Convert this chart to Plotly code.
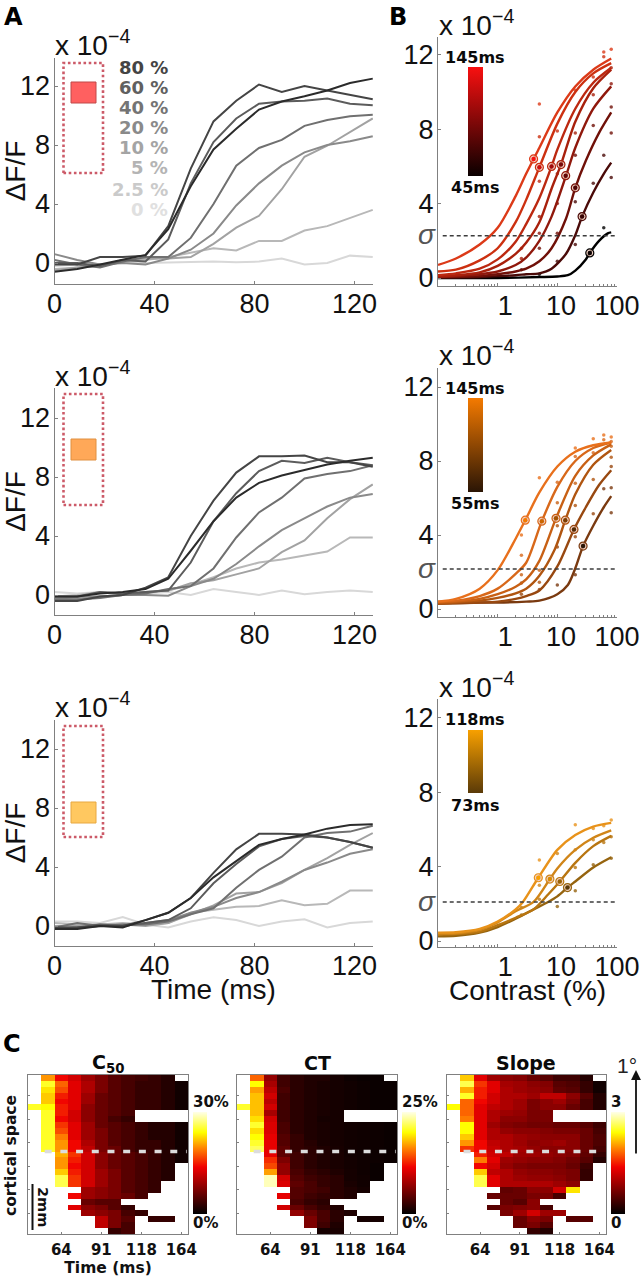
import plotly.graph_objects as go

W, H = 643, 1280
_ = None
HV = "Liberation Sans"
DV = "DejaVu Sans"

# ---------- panel A data ----------
t_ms = [0, 9.1, 18.2, 27.3, 36.4, 45.5, 54.5, 63.6, 72.7, 81.8, 90.9, 100, 109.1, 118.2, 127.3]
contrast_labels = ["80 %", "60 %", "40 %", "20 %", "10 %", "5 %", "2.5 %", "0 %"]
grays = ["#2b2b2b", "#454545", "#5c5c5c", "#707070", "#8a8a8a", "#a2a2a2", "#b8b8b8", "#d8d8d8"]
label_grays = ["#444444", "#606060", "#747474", "#8a8a8a", "#a4a4a4", "#b4b4b4", "#cacaca", "#e0e0e0"]

a1 = [
    [-0.6, -0.4, -0.1, 0.2, 0.55, 2.3, 5.2, 7.7, 9.1, 10.4, 10.95, 11.3, 11.7, 12.2, 12.5],
    [-0.1, -0.1, 0.4, 0.4, 0.5, 2.5, 6.4, 9.6, 11.0, 12.1, 11.6, 12.0, 11.7, 11.4, 11.1],
    [0.0, 0.0, -0.2, 0.2, 0.1, 1.6, 5.4, 8.2, 9.8, 10.8, 10.95, 11.0, 11.15, 10.8, 10.7],
    [0.2, -0.1, -0.3, 0.1, 0.4, 0.4, 1.7, 4.0, 6.6, 7.8, 8.35, 9.3, 9.7, 9.95, 10.05],
    [0.6, 0.2, -0.1, 0.0, -0.1, 0.3, 0.9, 2.0, 3.9, 5.4, 6.6, 7.5, 8.0, 8.25, 8.6],
    [-0.5, -0.3, -0.2, 0.2, 0.3, 0.3, 0.4, 1.3, 2.4, 3.2, 5.0, 7.2, 7.95, 8.9, 9.8],
    [-0.4, -0.3, -0.2, 0.1, 0.2, 0.4, 0.7, 1.0, 0.85, 1.5, 1.5, 2.2, 2.5, 3.05, 3.6],
    [-0.2, -0.1, -0.1, 0.0, 0.0, 0.05, 0.05, 0.1, 0.05, 0.1, 0.3, -0.1, 0.0, 0.5, 0.4],
]
a2 = [
    [-0.1, -0.1, 0.1, 0.2, 0.4, 1.1, 3.0, 5.0, 6.6, 7.6, 8.1, 8.5, 8.85, 9.1, 9.3],
    [-0.4, -0.4, -0.1, 0.0, 0.5, 1.2, 4.0, 6.4, 8.3, 9.4, 9.4, 9.45, 9.0, 9.0, 8.7],
    [-0.1, -0.1, 0.2, 0.1, 0.2, 0.3, 2.2, 5.0, 6.9, 8.4, 9.1, 8.95, 9.3, 9.0, 8.8],
    [-0.3, -0.3, -0.2, 0.0, 0.1, 0.4, 0.6, 1.8, 3.9, 5.6, 6.6, 7.9, 8.2, 8.4, 8.8],
    [-0.3, -0.1, -0.1, 0.0, 0.0, -0.05, 0.6, 1.1, 2.1, 3.3, 4.4, 5.2, 6.0, 6.6, 6.85],
    [-0.2, -0.2, -0.1, 0.0, 0.2, 0.3, 0.8, 1.0, 1.4, 1.8, 2.9, 3.7, 5.2, 6.5, 7.5],
    [-0.1, 0.0, 0.2, 0.1, 0.2, 0.3, 0.7, 1.2, 1.8, 2.2, 2.4, 2.65, 2.95, 3.9, 3.9],
    [0.2, 0.1, 0.2, 0.1, 0.1, 0.2, 0.0, 0.4, 0.2, 0.0, 0.3, 0.05, 0.2, 0.3, 0.2],
]
a3 = [
    [-0.2, -0.2, 0.0, -0.1, 0.4, 0.9, 1.9, 3.3, 4.4, 5.5, 5.9, 6.2, 6.6, 6.85, 6.9],
    [-0.1, -0.1, 0.0, 0.0, 0.4, 0.9, 1.9, 3.6, 5.2, 6.25, 6.25, 6.2, 6.0, 5.7, 5.3],
    [-0.2, -0.1, 0.1, 0.0, 0.2, 0.4, 1.2, 2.9, 4.2, 5.4, 5.9, 6.1, 6.0, 5.7, 5.3],
    [-0.1, 0.2, 0.0, 0.1, 0.1, 0.3, 0.8, 1.2, 2.6, 3.8, 4.7, 6.0, 6.3, 6.4, 6.8],
    [-0.2, -0.1, 0.0, 0.0, 0.2, 0.4, 0.9, 1.3, 1.9, 2.3, 3.0, 3.8, 4.3, 4.9, 5.2],
    [0.0, 0.0, 0.1, 0.1, 0.0, 0.2, 0.8, 1.4, 2.2, 2.3, 2.9, 3.8, 4.6, 5.5, 6.3],
    [0.2, 0.1, 0.1, 0.2, 0.1, 0.2, 0.9, 1.1, 1.3, 1.35, 1.75, 1.4, 1.5, 2.4, 2.4],
    [0.3, 0.3, 0.2, 0.6, 0.1, -0.1, 0.3, 0.6, 0.4, 0.0, 0.3, 0.45, -0.1, 0.2, 0.3],
]

# ---------- panel B data (fitted curves) ----------
b1_curves = [
    ([0.1, 0.2, 0.5, 1, 2, 3, 5, 10, 20, 40, 80], [0.7, 1.05, 1.8, 2.7, 4.4, 5.6, 7.0, 8.9, 10.3, 11.2, 11.8]),
    ([0.1, 0.2, 0.5, 1, 2, 3, 5, 10, 20, 40, 80], [0.35, 0.45, 0.95, 1.6, 3.0, 4.2, 5.95, 8.3, 10.0, 11.0, 11.55]),
    ([0.1, 0.2, 0.5, 1, 2, 3, 5, 8, 10, 20, 40, 80], [0.15, 0.25, 0.5, 1.0, 1.95, 2.9, 4.3, 6.0, 6.9, 9.1, 10.5, 11.3]),
    ([0.1, 0.2, 0.5, 1, 2, 3, 5, 8, 11.5, 20, 40, 80], [0.1, 0.15, 0.3, 0.65, 1.3, 1.9, 3.0, 4.8, 6.1, 8.4, 10.2, 11.2]),
    ([0.1, 0.2, 0.5, 1, 2, 3, 5, 8, 14, 20, 40, 80], [0.05, 0.1, 0.2, 0.35, 0.7, 1.1, 2.0, 3.3, 5.5, 7.0, 9.1, 10.3]),
    ([0.1, 0.2, 0.5, 1, 2, 3, 5, 8, 14, 20, 30, 50, 80], [0.05, 0.05, 0.1, 0.2, 0.35, 0.5, 0.9, 1.6, 3.2, 4.85, 6.3, 7.8, 8.9]),
    ([0.1, 0.5, 1, 2, 3, 5, 8, 14, 20, 26, 40, 60, 80], [0.03, 0.05, 0.1, 0.15, 0.2, 0.25, 0.5, 1.3, 2.3, 3.3, 4.6, 5.6, 6.2]),
    ([0.1, 0.5, 1, 5, 10, 15, 20, 30, 35, 50, 70, 80], [0.0, 0.0, 0.0, 0.05, 0.08, 0.15, 0.4, 1.0, 1.35, 2.0, 2.4, 2.45]),
]
b1_colors = ["#dc3a18", "#cc3010", "#bc2810", "#a8200c", "#90180c", "#701008", "#4a0a08", "#000000"]
b1_c50_x = [4.0, 5.0, 8.0, 11.5, 13.8, 20, 26, 35]
b1_c50_y = [6.4, 5.95, 6.0, 6.1, 5.5, 4.85, 3.3, 1.35]
b1_c50_t = [145, 127, 109, 91, 82, 73, 64, 45]
b1_dot_c = [2.5, 2.5, 2.5, 5, 5, 5, 5, 5, 5, 5, 10, 10, 10, 10, 10, 20, 20, 20, 20, 20, 40, 40, 40, 40, 60, 60, 60, 60, 80, 80, 80, 80, 80, 80]
b1_dot_v = [0.45, 1.05, 1.6, 9.35, 7.6, 5.2, 3.3, 2.4, 1.6, 0.2, 7.9, 5.6, 4.0, 2.4, 0.9, 10.1, 7.8, 6.6, 4.1, 1.8, 10.8, 9.85, 8.2, 5.1, 12.15, 11.9, 6.6, 2.7, 12.3, 11.3, 10.45, 9.2, 7.8, 5.4]
b1_dot_k = [6, 3, 2, 0, 1, 2, 3, 4, 5, 7, 1, 3, 4, 5, 6, 0, 3, 5, 6, 6, 1, 3, 5, 6, 0, 1, 6, 7, 0, 3, 4, 5, 5, 6]

b2_curves = [
    ([0.1, 0.2, 0.5, 1, 2, 2.9, 5, 10, 20, 40, 80], [0.4, 0.55, 1.1, 2.1, 3.8, 4.8, 6.3, 7.7, 8.5, 8.85, 9.0]),
    ([0.1, 0.2, 0.5, 1, 2, 3, 5.5, 10, 20, 40, 80], [0.4, 0.45, 0.7, 1.1, 1.9, 2.5, 4.75, 6.6, 8.0, 8.7, 9.0]),
    ([0.1, 0.2, 0.5, 1, 2, 3, 5, 9.5, 20, 40, 80], [0.35, 0.4, 0.55, 0.8, 1.2, 1.6, 2.6, 4.9, 7.2, 8.3, 8.9]),
    ([0.1, 0.2, 0.5, 1, 2, 3, 5, 9, 13.6, 20, 40, 80], [0.3, 0.35, 0.45, 0.6, 0.85, 1.1, 1.8, 3.2, 4.8, 6.2, 7.8, 8.6]),
    ([0.1, 0.5, 1, 2, 3, 5, 10, 19, 30, 50, 80], [0.3, 0.35, 0.4, 0.55, 0.7, 1.0, 2.3, 4.3, 5.5, 6.7, 7.5]),
    ([0.1, 0.5, 1, 3, 5, 10, 15, 20, 27, 40, 60, 80], [0.3, 0.35, 0.35, 0.4, 0.45, 0.8, 1.3, 2.2, 3.4, 4.5, 5.5, 6.1]),
]
b2_colors = ["#e8701c", "#d8681a", "#c86014", "#b05510", "#984810", "#7a3a10"]
b2_c50_x = [2.9, 5.5, 9.5, 13.6, 19, 27]
b2_c50_y = [4.8, 4.75, 4.9, 4.8, 4.3, 3.4]
b2_c50_t = [145, 127, 109, 91, 73, 55]
b2_dot_c = [2.5, 2.5, 2.5, 2.5, 2.5, 5, 5, 5, 5, 10, 10, 10, 10, 10, 20, 20, 20, 20, 20, 20, 40, 40, 40, 40, 60, 60, 60, 80, 80, 80, 80, 80, 80, 80]
b2_dot_v = [4.0, 2.9, 1.85, 1.4, 0.8, 7.1, 2.1, 1.45, 1.05, 6.85, 5.75, 4.5, 3.35, 1.3, 8.7, 8.25, 6.8, 5.6, 3.9, 1.85, 9.2, 8.45, 7.0, 5.15, 9.4, 9.15, 6.5, 9.3, 9.05, 8.8, 8.2, 7.7, 6.55, 5.2]
b2_dot_k = [0, 1, 2, 4, 4, 0, 2, 3, 4, 1, 2, 3, 4, 5, 0, 1, 2, 3, 4, 5, 0, 1, 3, 4, 0, 1, 5, 0, 1, 2, 3, 4, 5, 5]

b3_curves = [
    ([0.1, 0.2, 0.5, 1, 2, 2.65, 4.8, 10, 20, 40, 80], [0.45, 0.47, 0.65, 1.05, 1.7, 2.1, 3.4, 4.9, 5.7, 6.15, 6.35]),
    ([0.1, 0.2, 0.5, 1, 2, 4, 7.5, 10, 20, 40, 80], [0.4, 0.42, 0.6, 1.0, 1.6, 2.1, 3.33, 3.9, 4.9, 5.55, 5.95]),
    ([0.1, 0.2, 0.5, 1, 2, 4, 7, 11, 20, 40, 80], [0.35, 0.37, 0.5, 0.85, 1.25, 1.7, 2.5, 3.2, 4.2, 5.1, 5.65]),
    ([0.1, 0.2, 0.5, 1, 2, 4, 7, 10, 14.8, 20, 40, 80], [0.25, 0.28, 0.45, 0.75, 1.2, 1.7, 2.1, 2.4, 2.87, 3.2, 3.95, 4.5]),
]
b3_colors = ["#e8921a", "#d08518", "#b87510", "#96640f"]
b3_c50_x = [4.8, 7.5, 11, 14.8]
b3_c50_y = [3.4, 3.33, 3.2, 2.87]
b3_c50_t = [118, 109, 91, 73]
b3_dot_c = [2.5, 2.5, 5, 5, 5, 10, 10, 20, 20, 20, 20, 40, 40, 40, 60, 60, 80, 80, 80]
b3_dot_v = [1.4, 1.8, 4.35, 3.0, 2.25, 4.7, 1.85, 6.25, 4.9, 3.95, 2.7, 6.05, 5.45, 4.1, 6.2, 5.3, 6.5, 5.6, 4.45]
b3_dot_k = [3, 2, 0, 1, 2, 1, 3, 0, 1, 2, 3, 0, 1, 3, 0, 2, 0, 2, 3]
sigma_levels = [2.27, 2.16, 2.1]
sigma_x = [0.12, 100]

# ---------- panel C data ----------
c50 = [
    [_, 20, 14, 12, 9, 7, 5, 4, 3.5, 3, 2, _],
    [_, 25, 18, 13, 10, 7, 5, 4, 3, 3, 2, 1],
    [_, 23, 17, 13, 10, 7, 5, 4, 3, 3, 2, 1],
    [_, 22, 15, 13, 9, 6, 5, 4, 3, 3, 2, 1],
    [_, 22, 14, 13, 9, 6, 5, 4, 3, 3, 2, 1],
    [25, 24, 15, 13, 8, 6, 5, 4, 3, 3, 2, 1],
    [_, 25, 15, 12, 8, 6, 5, 4, _, _, _, _],
    [_, 25, 14, 12, 8, 6, 4, 3, _, _, _, _],
    [_, 25, 16, 13, 9, 6, 5, 4, 3, 2, 2, 1],
    [_, 25, 17, 13, 9, 7, 5, 4, 3, 2, 2, 1],
    [_, 25, 19, 13, 9, 7, 5, 4, 3, 2, 2, 1],
    [_, 25, 20, 14, 10, 7, 5, 4, 3, 3, 2, 1],
    [_, 25, 20, 14, 11, 7, 6, 4, 3, 3, 2, 1],
    [_, _, 21, 16, 12, 8, 6, 5, 4, 3, 2, 1],
    [_, _, 20, 15, 12, 8, 6, 5, 4, 3, 2, 1],
    [_, _, 20, 14, 12, 8, 6, 5, 4, 3, 2, _],
    [_, _, 22, 15, 12, 9, 7, 5, 4, 3, 2, _],
    [_, _, 26, 16, 12, 9, 7, 5, 4, 3, 2, _],
    [_, _, 26, 16, 12, 9, 7, 5, 4, 3, _, _],
    [_, _, _, _, 9, 8, 7, 5, 4, 3, _, _],
    [_, _, _, 14, 9, 8, 7, 6, 4, _, _, _],
    [_, _, _, _, 6, 5, 5, _, _, _, _, _],
    [_, _, _, 13, 8, 7, 5, 3, _, _, _, _],
    [_, _, _, _, 9, 8, 7, 4, 3, _, _, _],
    [_, _, _, _, _, 11, 7, 5, _, 3, 3, _],
    [_, _, _, _, _, 11, 7, 4, _, _, _, _],
    [_, _, _, _, _, _, 3, 4, _, _, _, _],
]
ct = [
    [_, 15, 7, 3, 2, 1.5, 1.5, 1, 0.6, 0.5, 0.5, _],
    [_, 20, 8, 3, 2, 1.5, 1.2, 1, 0.8, 0.6, 0.5, 0.5],
    [_, 17, 9, 3.5, 2, 1.5, 1.2, 1, 0.8, 0.6, 0.5, 0.5],
    [_, 18, 10, 3, 2, 1.5, 1.2, 1, 0.8, 0.6, 0.5, 0.5],
    [_, 18, 9, 3, 2, 1.5, 1.2, 1, 0.8, 0.6, 0.5, 0.5],
    [21, 18, 10, 3, 2, 1.5, 1.2, 1, 0.8, 0.6, 0.5, 0.5],
    [_, 18, 8, 3, 2, 1.5, 1.2, 1, _, _, _, _],
    [_, 19, 10, 3, 2, 1.5, 1, 1, _, _, _, _],
    [_, 21, 10.5, 3.5, 2, 1.5, 1.2, 1, 0.8, 0.7, 0.6, 0.5],
    [_, 19, 10.5, 3.5, 2, 1.5, 1.2, 1, 0.8, 0.7, 0.6, 0.5],
    [_, 20, 11, 4, 2.5, 1.5, 1.2, 1, 0.8, 0.7, 0.6, 0.5],
    [_, 21, 11, 4, 2.5, 1.8, 1.2, 1, 0.8, 0.7, 0.6, 0.5],
    [_, 22, 11, 4.5, 2.5, 2, 1.5, 1.1, 0.8, 0.7, 0.6, 0.5],
    [_, _, 11, 4.5, 3, 2, 1.5, 1.2, 0.8, 0.7, 0.6, 0.5],
    [_, _, 13, 6, 3, 2, 1.5, 1.2, 0.9, 0.7, 0.6, 0.5],
    [_, _, 14, 7, 3, 2, 1.5, 1.2, 0.9, 0.7, 0.5, _],
    [_, _, 17, 7, 3.5, 2.5, 2, 1.5, 1, 0.7, 0.5, _],
    [_, _, 24, 10, 4, 3, 2.5, 2, 1, 0.8, 0.5, _],
    [_, _, 24, 10.5, 4.5, 3.5, 2.5, 2, 1.2, 0.8, _, _],
    [_, _, _, _, 4, 3.5, 3, 2, 1.5, 1, _, _],
    [_, _, _, 11, 4, 3, 2.5, 2, 1.5, _, _, _],
    [_, _, _, _, 3.5, 2.5, 2, _, _, _, _, _],
    [_, _, _, 10, 5, 3.5, 2.5, 1.5, _, _, _, _],
    [_, _, _, _, 7, 5, 3.5, 2, 1.5, _, _, _],
    [_, _, _, _, _, 6, 3.5, 2, _, 1, 1, _],
    [_, _, _, _, _, 6, 3, 1.5, _, _, _, _],
    [_, _, _, _, _, _, 1, 1.2, _, _, _, _],
]
slope = [
    [_, 2.2, 1.3, 0.9, 0.8, 0.75, 0.6, 0.5, 0.35, 0.35, 0.2, _],
    [_, 2.6, 1.6, 1.3, 0.95, 0.9, 0.8, 0.75, 0.5, 0.45, 0.3, 0.1],
    [_, 2.1, 1.5, 1.3, 1.0, 0.9, 0.85, 0.8, 0.55, 0.5, 0.3, 0.1],
    [_, 2.5, 1.5, 1.2, 1.0, 1.0, 0.9, 1.1, 1.1, 0.8, 0.5, 0.2],
    [_, 1.8, 1.4, 1.2, 1.0, 0.9, 0.7, 0.8, 0.9, 0.7, 0.4, 0.2],
    [2.4, 1.8, 1.3, 1.1, 1.0, 0.9, 0.7, 0.8, 0.8, 0.6, 0.4, 0.2],
    [_, 1.8, 1.3, 1.0, 0.9, 0.85, 0.7, 0.7, _, _, _, _],
    [_, 1.9, 1.3, 1.0, 0.8, 0.8, 0.7, 0.7, _, _, _, _],
    [_, 2.4, 1.3, 0.9, 0.75, 0.7, 0.65, 0.65, 0.6, 0.6, 0.5, 0.35],
    [_, 2.4, 1.3, 1.0, 0.85, 0.8, 0.8, 0.75, 0.7, 0.7, 0.6, 0.4],
    [_, 2.2, 1.3, 1.0, 1.0, 0.9, 0.85, 0.8, 0.8, 0.8, 0.6, 0.45],
    [_, 2.0, 1.4, 1.1, 1.0, 0.9, 0.8, 0.85, 0.9, 0.8, 0.6, 0.45],
    [_, 1.6, 1.4, 1.15, 1.0, 0.95, 0.85, 0.8, 0.8, 0.8, 0.6, 0.4],
    [_, _, 1.5, 1.2, 1.1, 0.9, 0.9, 0.85, 0.8, 0.75, 0.55, 0.3],
    [_, _, 1.9, 1.3, 0.9, 0.85, 0.8, 0.8, 0.75, 0.65, 0.5, 0.2],
    [_, _, 1.4, 1.2, 0.85, 0.75, 0.7, 0.7, 0.7, 0.6, 0.35, _],
    [_, _, 2.2, 1.1, 1.0, 0.85, 0.8, 0.8, 0.75, 0.7, 0.3, _],
    [_, _, 2.6, 1.3, 1.0, 0.9, 0.85, 0.85, 0.8, 0.7, 0.3, _],
    [_, _, 2.6, 1.3, 1.0, 1.0, 1.0, 1.0, 0.9, 0.8, _, _],
    [_, _, _, _, 0.55, 0.6, 0.8, 0.8, 1.2, 2.3, _, _],
    [_, _, _, 0.6, 0.6, 0.6, 0.7, 0.7, 0.4, _, _, _],
    [_, _, _, _, 0.6, 0.5, 0.8, _, _, _, _, _],
    [_, _, _, 0.5, 0.7, 0.75, 0.8, 0.4, _, _, _, _],
    [_, _, _, _, 0.7, 0.9, 1.2, 0.9, 0.9, _, _, _],
    [_, _, _, _, _, 0.6, 0.8, 0.7, _, 0.5, 0.5, _],
    [_, _, _, _, _, 0.6, 0.7, 0.5, _, _, _, _],
    [_, _, _, _, _, _, 0.3, 0.2, _, _, _, _],
]
col_index = list(range(12))
row_index = list(range(27))
time_ticks = [2, 5, 8, 11]
time_labels = ["64", "91", "118", "164"]
hot = [[0, "#000000"], [0.46, "#f00000"], [0.64, "#ff8000"], [0.8, "#ffff00"], [1, "#ffffe8"]]

minor_vals = [m * d for d in (0.1, 1, 10) for m in range(2, 10)]
AX = "#808080"

fig = go.Figure()
layout = {}
ann = []
shapes = []

def px(x): return x / W
def py(y): return 1 - y / H

def T(x, y, text, size, family=HV, color="#111111", xa="center", ya="middle", angle=0, bold=False):
    if bold:
        text = "<b>" + text + "</b>"
    ann.append(dict(x=px(x), y=py(y), xref="paper", yref="paper", text=text, showarrow=False,
                    font=dict(size=size, family=family, color=color), xanchor=xa, yanchor=ya,
                    textangle=angle, borderpad=0, borderwidth=0))

def axes(n, x0, x1, y0, y1, xopt, yopt):
    s = "" if n == 1 else str(n)
    base = dict(showgrid=False, zeroline=False, linecolor=AX, linewidth=1.3, showline=True, ticks="inside",
                tickcolor=AX, ticklen=3, tickwidth=1)
    layout["xaxis" + s] = {**base, "domain": [px(x0), px(x1)], "anchor": "y" + s, **xopt}
    layout["yaxis" + s] = {**base, "domain": [py(y1), py(y0)], "anchor": "x" + s, **yopt}
    return "x" + s, "y" + s

bigfont = dict(family=HV, size=27, color="#111111")

# ---------- Panel A ----------
A_geo = [
    (58, 284, 263.0, a1, 63, 173, 82, 103, "#ff6060", "#c04848", 53),
    (388, 615, 595.0, a2, 394, 505, 439, 460, "#ffa858", "#e09040", 384),
    (720, 946, 926.0, a3, 726, 837, 802, 823, "#ffc860", "#e8a840", 715),
]
for i, (top, bot, zero, series, d0, d1, s0, s1, fc, lc, base) in enumerate(A_geo):
    n = i + 1
    k = 14.75
    xo = dict(range=[0, 127.4], tickvals=[0, 40, 80, 120], tickfont=bigfont, ticklabelstandoff=-5)
    yo = dict(range=[(zero - bot) / k, (zero - top) / k], tickvals=[0, 4, 8, 12], tickfont=bigfont, ticklabelstandoff=-2,
              title=dict(text="ΔF/F", font=dict(family=HV, size=28, color="#111111"), standoff=4))
    xr, yr = axes(n, 54.5, 373, top, bot, xo, yo)
    for j in range(7, -1, -1):
        fig.add_trace(go.Scatter(x=t_ms, y=series[j], mode="lines", xaxis=xr, yaxis=yr, name=contrast_labels[j],
                                 line=dict(color=grays[j], width=2), showlegend=False, cliponaxis=True))
    shapes.append(dict(type="rect", xref="paper", yref="paper", x0=px(63.5), x1=px(103), y0=py(d1), y1=py(d0),
                       line=dict(color="#cc5a68", width=2.6, dash="2.6px,2.6px"), fillcolor="rgba(0,0,0,0)"))
    shapes.append(dict(type="rect", xref="paper", yref="paper", x0=px(71), x1=px(96), y0=py(s1), y1=py(s0),
                       line=dict(color=lc, width=1), fillcolor=fc))
    T(55, base + 8, "x 10<sup>−4</sup>", 28, xa="left", ya="bottom")

T(213.5, 989, "Time (ms)", 28)
T(527, 990, "Contrast (%)", 28)

for lab, col, y in zip(contrast_labels, label_grays, [68, 88, 108, 128, 148, 168, 189, 209]):
    T(168, y, lab, 18, family=DV, color=col, xa="right", bold=True)

# ---------- Panel B ----------
B_geo = [
    (37, 286, 278.0, 18.6, b1_curves, b1_colors, b1_c50_x, b1_c50_y, b1_c50_t, b1_dot_c, b1_dot_v, b1_dot_k,
     [[0, "#0a0000"], [1, "#f81010"]], 45, 145, 67, 176, "145ms", "45ms", 57, 187, 33, 234),
    (368, 617, 609.0, 18.5, b2_curves, b2_colors, b2_c50_x, b2_c50_y, b2_c50_t, b2_dot_c, b2_dot_v, b2_dot_k,
     [[0, "#2a1505"], [1, "#f47a00"]], 55, 145, 398, 492, "145ms", "55ms", 388, 503, 363, 568),
    (699, 947, 941.0, 18.6, b3_curves, b3_colors, b3_c50_x, b3_c50_y, b3_c50_t, b3_dot_c, b3_dot_v, b3_dot_k,
     [[0, "#5a3a08"], [1, "#f8a000"]], 73, 118, 730, 793, "118ms", "73ms", 719, 805, 695, 901),
]
for i, g in enumerate(B_geo):
    top, bot, zero, k, curves, cols, cx, cy, ct_, dc, dv, dk, scale, tmin, tmax, b0, b1_, tl, bl, ytl, ybl, base, ysig = g
    n = i + 4
    xo = dict(type="log", range=[-1, 2], tickvals=[1, 10, 100], ticktext=["\u00a0\u00a01", "\u00a010", "100"],
              tickfont=bigfont, ticklabelstandoff=-5,
              minor=dict(tickvals=minor_vals, ticks="inside", ticklen=2, tickcolor=AX, tickwidth=1))
    yo = dict(range=[(zero - bot) / k, (zero - top) / k], tickvals=[0, 4, 8, 12], tickfont=bigfont, ticklabelstandoff=-2)
    xr, yr = axes(n, 438, 617, top, bot, xo, yo)
    fig.add_trace(go.Scatter(x=dc, y=dv, mode="markers", xaxis=xr, yaxis=yr, showlegend=False,
                             marker=dict(size=3.5, color=[cols[q] for q in dk], opacity=0.8)))
    for (xs, ys), c in zip(curves[::-1], cols[::-1]):
        fig.add_trace(go.Scatter(x=xs, y=ys, mode="lines", xaxis=xr, yaxis=yr, showlegend=False,
                                 line=dict(color=c, width=2.4, shape="spline", smoothing=0.8)))
    fig.add_trace(go.Scatter(x=sigma_x, y=[sigma_levels[i]] * 2, mode="lines", xaxis=xr, yaxis=yr, showlegend=False,
                             line=dict(color="#3c3c3c", width=1.4, dash="4px,3px")))
    fig.add_trace(go.Scatter(x=cx, y=cy, mode="markers", xaxis=xr, yaxis=yr, showlegend=False,
                             marker=dict(size=8, color="rgba(235,190,170,0.7)",
                                         line=dict(color=cols[:len(cx)], width=1.2))))
    fig.add_trace(go.Scatter(x=cx, y=cy, mode="markers", xaxis=xr, yaxis=yr, showlegend=False,
                             marker=dict(size=4.5, color=ct_, colorscale=scale, cmin=tmin, cmax=tmax, showscale=True,
                                         colorbar=dict(x=px(468), xanchor="left", y=py(b0), yanchor="top",
                                                       lenmode="pixels", len=b1_ - b0,
                                                       thicknessmode="pixels", thickness=15, xpad=0, ypad=0,
                                                       outlinewidth=0, ticks="", showticklabels=False))))
    T(475, ytl, tl, 16, family=DV, color="#0a0a0a", bold=True)
    T(475, ybl, bl, 16, family=DV, color="#0a0a0a", bold=True)
    T(439, base + 8, "x 10<sup>−4</sup>", 28, xa="left", ya="bottom")
    T(427, ysig, "<i>σ</i>", 28, color="#555555")

# ---------- Panel C ----------
C_geo = [
    (28, 188, c50, 30, "C<sub>50</sub>", 108, 193, "30%", "0%"),
    (237, 397, ct, 25, "CT", 317, 402, "25%", "0%"),
    (447, 606, slope, 3, "Slope", 526, 611, "3", "0"),
]
for i, (x0, x1, z, zmax, title, tx, cbx, hi, lo) in enumerate(C_geo):
    n = i + 7
    xo = dict(range=[-0.5, 11.5], tickvals=time_ticks, ticktext=time_labels, mirror=True, ticklen=2,
              tickfont=dict(family=DV, size=15, color="#111111", weight="bold"), ticklabelstandoff=2)
    if i == 0:
        xo["title"] = dict(text="<b>Time (ms)</b>", font=dict(family=DV, size=15.5, color="#111111"), standoff=1)
    yo = dict(range=[26.5, -0.5], tickvals=[3, 7, 11, 15, 19, 23], showticklabels=False, mirror=True, ticklen=2)
    xr, yr = axes(n, x0, x1, 1075, 1234, xo, yo)
    fig.add_trace(go.Heatmap(z=z, x=col_index, y=row_index, xaxis=xr, yaxis=yr, zmin=0, zmax=zmax,
                             colorscale=hot, hoverongaps=False,
                             colorbar=dict(x=px(cbx), xanchor="left", y=py(1112), yanchor="top",
                                           lenmode="pixels", len=102, thicknessmode="pixels", thickness=14,
                                           xpad=0, ypad=0, outlinewidth=0, ticks="", showticklabels=False)))
    fig.add_trace(go.Scatter(x=[0.75, 11.4], y=[12.5, 12.5], mode="lines", xaxis=xr, yaxis=yr, showlegend=False,
                             line=dict(color="#dcdcdc", width=3.5, dash="7px,8.7px")))
    T(tx, 1063, title, 19, family=DV, color="#0a0a0a", bold=True)
    T(cbx, 1102, hi, 15, family=DV, color="#111111", xa="left", bold=True)
    T(cbx, 1223, lo, 15, family=DV, color="#111111", xa="left", bold=True)

T(11, 1156, "cortical space", 15.5, family=DV, color="#111111", angle=-90, bold=True)
T(43, 1207, "2mm", 14.5, family=DV, color="#111111", angle=90, bold=True)
shapes.append(dict(type="line", xref="paper", yref="paper", x0=px(32.5), x1=px(32.5), y0=py(1184), y1=py(1230),
                   line=dict(color="#111111", width=2)))

T(627, 1065, "1°", 21, color="#222222")
ann.append(dict(x=px(636), y=py(1070), ax=0, ay=85, xref="paper", yref="paper", axref="pixel",
                ayref="pixel", text="", showarrow=True, arrowhead=2, arrowsize=1.1, arrowwidth=1.8, arrowcolor="#111111"))

# Panel letters
T(4, 17, "A", 24, family=DV, color="#000000", xa="left", bold=True)
T(389, 17, "B", 24, family=DV, color="#000000", xa="left", bold=True)
T(3, 1044, "C", 24, family=DV, color="#000000", xa="left", bold=True)

fig.update_layout(width=W, height=H, margin=dict(l=0, r=0, t=0, b=0, autoexpand=False), paper_bgcolor="white",
                  plot_bgcolor="white", showlegend=False, annotations=ann, shapes=shapes, **layout)
fig.write_html("out.html", post_script="document.body.style.margin='0';", config={"displayModeBar": False})
